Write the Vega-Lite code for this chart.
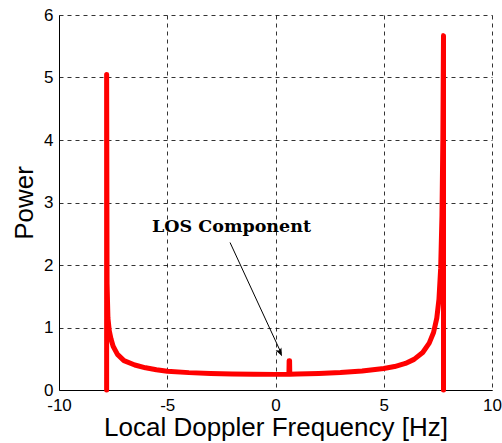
{
  "$schema": "https://vega.github.io/schema/vega-lite/v6.json",
  "width": 433,
  "height": 375,
  "autosize": {"type": "none"},
  "padding": {"left": 59, "top": 15, "right": 10, "bottom": 53},
  "background": "white",
  "config": {
    "view": {"stroke": null},
    "axis": {
      "labelFont": "Liberation Sans",
      "titleFont": "Liberation Sans",
      "labelFontSize": 17,
      "titleFontSize": 26,
      "labelColor": "black",
      "titleColor": "black",
      "titleFontWeight": "normal",
      "domainColor": "black",
      "domainWidth": 1,
      "gridColor": "black",
      "gridDash": [4, 4],
      "gridOpacity": 0.8,
      "ticks": false,
      "labelOverlap": false,
      "labelBound": false,
      "labelFlush": false
    }
  },
  "datasets": {
    "spectrum": [
      {"i": 0, "f": -7.8, "p": 0},
      {"i": 1, "f": -7.8, "p": 5.05},
      {"i": 2, "f": -7.78, "p": 1.7},
      {"i": 3, "f": -7.74, "p": 1.15},
      {"i": 4, "f": -7.68, "p": 0.95},
      {"i": 5, "f": -7.6, "p": 0.82},
      {"i": 6, "f": -7.5, "p": 0.7},
      {"i": 7, "f": -7.3, "p": 0.57},
      {"i": 8, "f": -7.0, "p": 0.47},
      {"i": 9, "f": -6.5, "p": 0.4},
      {"i": 10, "f": -6.0, "p": 0.355},
      {"i": 11, "f": -5.5, "p": 0.325},
      {"i": 12, "f": -5.0, "p": 0.3},
      {"i": 13, "f": -4.0, "p": 0.278},
      {"i": 14, "f": -3.0, "p": 0.265},
      {"i": 15, "f": -2.0, "p": 0.257},
      {"i": 16, "f": -1.0, "p": 0.252},
      {"i": 17, "f": 0.0, "p": 0.25},
      {"i": 18, "f": 0.62, "p": 0.252},
      {"i": 19, "f": 0.63, "p": 0.47},
      {"i": 20, "f": 0.65, "p": 0.47},
      {"i": 21, "f": 0.66, "p": 0.253},
      {"i": 22, "f": 1.0, "p": 0.255},
      {"i": 23, "f": 2.0, "p": 0.265},
      {"i": 24, "f": 3.0, "p": 0.28},
      {"i": 25, "f": 4.0, "p": 0.305},
      {"i": 26, "f": 5.0, "p": 0.345},
      {"i": 27, "f": 5.5, "p": 0.375},
      {"i": 28, "f": 6.0, "p": 0.425},
      {"i": 29, "f": 6.4, "p": 0.49},
      {"i": 30, "f": 6.8, "p": 0.6},
      {"i": 31, "f": 7.1, "p": 0.75},
      {"i": 32, "f": 7.3, "p": 0.92},
      {"i": 33, "f": 7.45, "p": 1.15},
      {"i": 34, "f": 7.55, "p": 1.45},
      {"i": 35, "f": 7.63, "p": 1.95},
      {"i": 36, "f": 7.69, "p": 2.8},
      {"i": 37, "f": 7.73, "p": 4.0},
      {"i": 38, "f": 7.76, "p": 5.67},
      {"i": 39, "f": 7.76, "p": 0}
    ],
    "note": [
      {"label": "LOS Component", "tx": -2.03, "ty": 2.53, "x0": -2.1, "y0": 2.36, "x1": 0.25, "y1": 0.6, "hx": 0.3, "hy": 0.54}
    ]
  },
  "layer": [
    {
      "data": {"name": "spectrum"},
      "mark": {"type": "line", "color": "#ff0000", "strokeWidth": 5, "strokeJoin": "round", "strokeCap": "round"},
      "encoding": {
        "x": {
          "field": "f",
          "type": "quantitative",
          "scale": {"domain": [-10, 10], "nice": false, "zero": false},
          "axis": {
            "values": [-10, -5, 0, 5, 10],
            "grid": true,
            "title": "Local Doppler Frequency [Hz]",
            "labelPadding": 7,
            "titlePadding": 1,
            "labelExpr": "'' + datum.value"
          }
        },
        "y": {
          "field": "p",
          "type": "quantitative",
          "scale": {"domain": [0, 6], "nice": false},
          "axis": {
            "values": [0, 1, 2, 3, 4, 5, 6],
            "grid": true,
            "title": "Power",
            "labelPadding": 6,
            "titlePadding": 6,
            "labelExpr": "'' + datum.value"
          }
        },
        "order": {"field": "i", "type": "quantitative"}
      }
    },
    {
      "data": {"name": "note"},
      "mark": {"type": "rule", "color": "black", "strokeWidth": 1},
      "encoding": {
        "x": {"field": "x0", "type": "quantitative"},
        "y": {"field": "y0", "type": "quantitative"},
        "x2": {"field": "x1"},
        "y2": {"field": "y1"}
      }
    },
    {
      "data": {"name": "note"},
      "mark": {
        "type": "point",
        "shape": "M0,0L-0.5,-1.3L0,-1.0L0.5,-1.3Z",
        "size": 160,
        "filled": true,
        "color": "black",
        "opacity": 1,
        "angle": 335
      },
      "encoding": {
        "x": {"field": "hx", "type": "quantitative"},
        "y": {"field": "hy", "type": "quantitative"}
      }
    },
    {
      "data": {"name": "note"},
      "mark": {"type": "text", "font": "DejaVu Serif", "fontSize": 17.5, "fontWeight": "bold", "align": "center", "baseline": "alphabetic", "color": "black"},
      "encoding": {
        "x": {"field": "tx", "type": "quantitative"},
        "y": {"field": "ty", "type": "quantitative"},
        "text": {"field": "label"}
      }
    }
  ]
}
